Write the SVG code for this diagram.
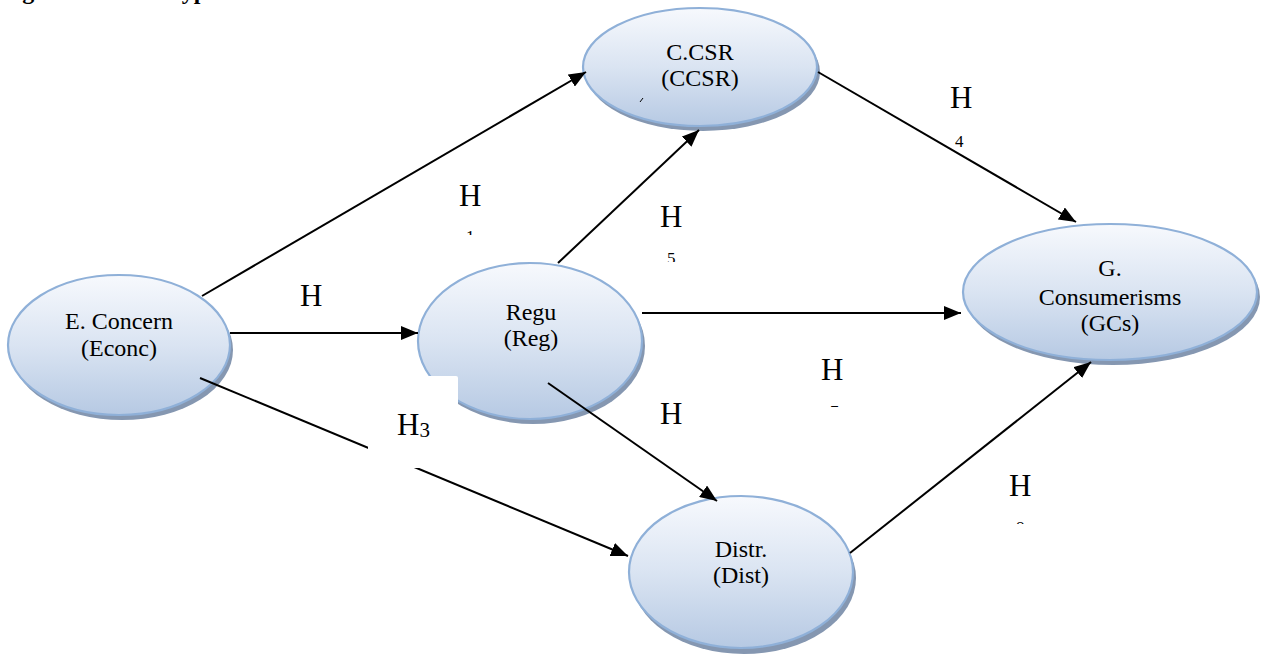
<svg xmlns="http://www.w3.org/2000/svg" width="1261" height="659" viewBox="0 0 1261 659">
<style>
.node{fill:url(#g);stroke:#8fb0d8;stroke-width:2.2}
.sh{fill:#8597b1}
text{font-family:"Liberation Serif","Times New Roman",Tinos,Times,"DejaVu Serif",serif;fill:#000}
.t{font-size:24px;text-anchor:middle}
.h{font-size:31px}
.s{font-size:17px}
.c{stroke:#000;stroke-width:2;fill:none;marker-end:url(#a)}
.title{font-size:24px;font-weight:bold}
</style>
<defs>
<linearGradient id="g" x1="0" y1="0" x2="0" y2="1">
<stop offset="0" stop-color="#f7f9fd"/>
<stop offset="0.5" stop-color="#dae4f2"/>
<stop offset="1" stop-color="#b6c9e3"/>
</linearGradient>
<marker id="a" markerUnits="userSpaceOnUse" markerWidth="18" markerHeight="14" refX="17" refY="7" orient="auto">
<path d="M0,0 L17,7 L0,14 Z" fill="#000"/>
</marker>
<clipPath id="k1"><rect x="455" y="220" width="30" height="15"/></clipPath>
<clipPath id="k5"><rect x="655" y="240" width="30" height="22"/></clipPath>
<clipPath id="k7"><rect x="815" y="395" width="30" height="12"/></clipPath>
<clipPath id="k8"><rect x="1005" y="510" width="30" height="14"/></clipPath>
</defs>
<text class="title" x="1" y="-1">Figure 1:<tspan x="163">Hypotheses</tspan></text>
<g id="econc">
<ellipse class="sh" cx="122" cy="350" rx="111" ry="70"/>
<ellipse class="node" cx="119" cy="345" rx="111" ry="70"/>
<text class="t" x="119" y="329">E. Concern</text>
<text class="t" x="119" y="356">(Econc)</text>
</g>
<g id="ccsr">
<ellipse class="sh" cx="703" cy="72" rx="117" ry="59"/>
<ellipse class="node" cx="700" cy="67" rx="117" ry="59"/>
<text class="t" x="700" y="60">C.CSR</text>
<text class="t" x="700" y="86">(CCSR)</text>
</g>
<g id="reg">
<ellipse class="sh" cx="533" cy="346" rx="112" ry="78"/>
<ellipse class="node" cx="530" cy="341" rx="112" ry="78"/>
<text class="t" x="531" y="320">Regu</text>
<text class="t" x="531" y="346">(Reg)</text>
</g>
<g id="gcs">
<ellipse class="sh" cx="1113" cy="297" rx="147" ry="68"/>
<ellipse class="node" cx="1110" cy="292" rx="147" ry="68"/>
<text class="t" x="1110" y="276">G.</text>
<text class="t" x="1110" y="305">Consumerisms</text>
<text class="t" x="1110" y="331">(GCs)</text>
</g>
<g id="dist">
<ellipse class="sh" cx="744" cy="578" rx="112" ry="76"/>
<ellipse class="node" cx="741" cy="572" rx="112" ry="76"/>
<text class="t" x="741" y="557">Distr.</text>
<text class="t" x="741" y="583">(Dist)</text>
</g>
<g id="connectors">
<line class="c" x1="202" y1="296" x2="586" y2="72"/>
<line class="c" x1="230" y1="333" x2="418" y2="333"/>
<line class="c" x1="200" y1="378" x2="628" y2="556"/>
<line class="c" x1="818" y1="72" x2="1076" y2="222"/>
<line class="c" x1="558" y1="263" x2="699" y2="130"/>
<line class="c" x1="642" y1="313" x2="961" y2="313"/>
<line class="c" x1="548" y1="383" x2="717" y2="501"/>
<line class="c" x1="850" y1="553" x2="1091" y2="362"/>
</g>
<rect x="368" y="376" width="90" height="92" rx="2" fill="#fff"/>
<line x1="640" y1="102" x2="643" y2="98" stroke="#000" stroke-width="1"/>
<g id="labels">
<text class="h" x="459" y="206">H</text>
<text class="s" x="466" y="242" clip-path="url(#k1)">1</text>
<text class="h" x="300" y="306">H</text>
<text class="h" x="397" y="435">H<tspan font-size="21" dy="2">3</tspan></text>
<text class="h" x="950" y="108">H</text>
<text class="s" x="955" y="147">4</text>
<text class="h" x="660" y="227">H</text>
<text class="s" x="667" y="264" clip-path="url(#k5)">5</text>
<text class="h" x="660" y="424">H</text>
<text class="h" x="821" y="380">H</text>
<text class="s" x="830" y="417" clip-path="url(#k7)">7</text>
<text class="h" x="1009" y="496">H</text>
<text class="s" x="1016" y="533" clip-path="url(#k8)">8</text>
</g>
</svg>
